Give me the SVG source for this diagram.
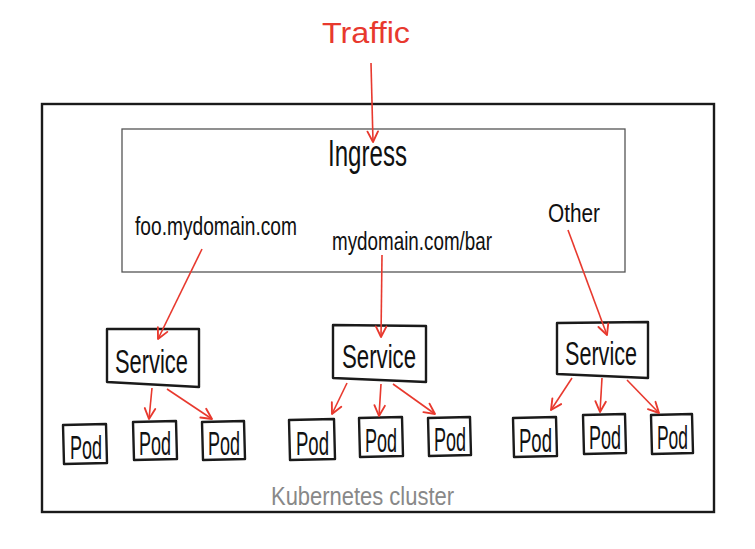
<svg xmlns="http://www.w3.org/2000/svg" width="755" height="549" viewBox="0 0 755 549">
<style>
  text { font-family: "Liberation Sans Narrow", "Liberation Sans", "DejaVu Sans", sans-serif; }
  .lbl { fill: #111; font-size: 26px; }
  .red { fill: #e8392e; }
  .box { fill: #fff; stroke: #1a1a1a; stroke-width: 2.4; stroke-linejoin: round; }
  .pod { fill: #fff; stroke: #1a1a1a; stroke-width: 2.4; stroke-linejoin: round; }
  .svc-t { fill: #111; font-size: 33px; }
  .pod-t { fill: #111; font-size: 34px; }
  .conn line { stroke: #e8392e; stroke-width: 1.6; fill: none; marker-end: url(#arr); }
</style>
<defs>
  <marker id="arr" markerUnits="userSpaceOnUse" markerWidth="14" markerHeight="14" viewBox="0 0 12 12" refX="11" refY="6" orient="auto">
    <path d="M2,1.5 L11,6 L2,10.5" fill="none" stroke="#e8392e" stroke-width="1.6" stroke-linecap="round" stroke-linejoin="round"/>
  </marker>
</defs>
<rect width="755" height="549" fill="#fff"/>

<g id="cluster">
  <rect x="42" y="104" width="672" height="408" fill="none" stroke="#1a1a1a" stroke-width="2.4"/>
  <text x="271" y="505" font-size="25" fill="#888" textLength="183" lengthAdjust="spacingAndGlyphs">Kubernetes cluster</text>
</g>

<g id="traffic">
  <text class="red" x="322" y="43" font-size="30" textLength="88" lengthAdjust="spacingAndGlyphs">Traffic</text>
</g>

<g id="ingress">
  <rect x="122" y="129" width="503" height="143" fill="none" stroke="#555" stroke-width="1.3"/>
  <text x="328" y="166" font-size="36" fill="#111" textLength="79" lengthAdjust="spacingAndGlyphs">Ingress</text>
  <text class="lbl" x="135" y="235" textLength="162" lengthAdjust="spacingAndGlyphs">foo.mydomain.com</text>
  <text class="lbl" x="332" y="250" textLength="160" lengthAdjust="spacingAndGlyphs">mydomain.com/bar</text>
  <text class="lbl" x="548" y="222" textLength="52" lengthAdjust="spacingAndGlyphs">Other</text>
</g>

<g id="service1">
  <polygon class="box" points="107,329 199,329 199,387 107,382"/>
  <text class="svc-t" x="115" y="373" textLength="73" lengthAdjust="spacingAndGlyphs">Service</text>
</g>
<g id="service2">
  <polygon class="box" points="333,325 426,326 426,382 333,378"/>
  <text class="svc-t" x="342" y="368" textLength="74" lengthAdjust="spacingAndGlyphs">Service</text>
</g>
<g id="service3">
  <polygon class="box" points="557,323 648,322 648,378 557,374"/>
  <text class="svc-t" x="565" y="365" textLength="72" lengthAdjust="spacingAndGlyphs">Service</text>
</g>

<g id="pod1a"><polygon class="pod" points="63,425 106,424 107,463 64,464"/><text class="pod-t" x="70" y="459" textLength="32" lengthAdjust="spacingAndGlyphs">Pod</text></g>
<g id="pod1b"><polygon class="pod" points="133,422 176,421 177,459 134,460"/><text class="pod-t" x="139" y="455" textLength="32" lengthAdjust="spacingAndGlyphs">Pod</text></g>
<g id="pod1c"><polygon class="pod" points="202,422 244,421 245,459 203,460"/><text class="pod-t" x="208" y="455" textLength="32" lengthAdjust="spacingAndGlyphs">Pod</text></g>

<g id="pod2a"><polygon class="pod" points="289,420 334,419 335,459 290,460"/><text class="pod-t" x="296" y="455" textLength="33" lengthAdjust="spacingAndGlyphs">Pod</text></g>
<g id="pod2b"><polygon class="pod" points="359,418 402,417 403,456 360,457"/><text class="pod-t" x="365" y="452" textLength="32" lengthAdjust="spacingAndGlyphs">Pod</text></g>
<g id="pod2c"><polygon class="pod" points="428,418 470,417 471,455 429,456"/><text class="pod-t" x="434" y="451" textLength="32" lengthAdjust="spacingAndGlyphs">Pod</text></g>

<g id="pod3a"><polygon class="pod" points="513,418 556,417 557,456 514,457"/><text class="pod-t" x="519" y="452" textLength="33" lengthAdjust="spacingAndGlyphs">Pod</text></g>
<g id="pod3b"><polygon class="pod" points="583,415 625,414 626,453 584,454"/><text class="pod-t" x="589" y="449" textLength="32" lengthAdjust="spacingAndGlyphs">Pod</text></g>
<g id="pod3c"><polygon class="pod" points="651,415 692,414 693,453 652,454"/><text class="pod-t" x="657" y="449" textLength="31" lengthAdjust="spacingAndGlyphs">Pod</text></g>

<g id="connectors" class="conn">
  <line x1="371" y1="63" x2="373" y2="142"/>
  <line x1="202" y1="249" x2="158" y2="339"/>
  <line x1="382" y1="255" x2="381" y2="337"/>
  <line x1="568" y1="230" x2="607" y2="335"/>
  <line x1="152" y1="388" x2="149" y2="419"/>
  <line x1="167" y1="389" x2="212" y2="419"/>
  <line x1="347" y1="383" x2="332" y2="414"/>
  <line x1="381" y1="384" x2="379" y2="416"/>
  <line x1="393" y1="384" x2="435" y2="414"/>
  <line x1="572" y1="378" x2="551" y2="410"/>
  <line x1="602" y1="378" x2="600" y2="412"/>
  <line x1="627" y1="380" x2="659" y2="413"/>
</g>
</svg>
